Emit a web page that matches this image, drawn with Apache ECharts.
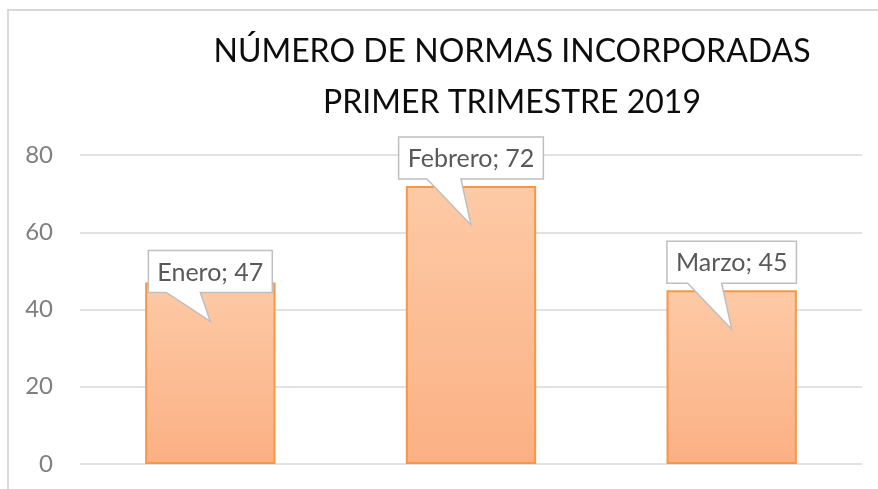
<!DOCTYPE html>
<html>
<head>
<meta charset="utf-8">
<script src="https://cdn.jsdelivr.net/npm/echarts@6/dist/echarts.min.js"></script>
<style>
  html, body { margin: 0; padding: 0; background: #fff; }
  #chart { width: 878px; height: 489px; }
</style>
</head>
<body>
<div id="chart"></div>
<script>
const categories = ['Enero', 'Febrero', 'Marzo'];
const values = [47, 72, 45];
const yTicks = [0, 20, 40, 60, 80];

// how far the callout box centre sits above each bar top (Excel moved Enero's down)
const boxLift = [11, 28, 28];

const chart = echarts.init(document.getElementById('chart'));
const font = 'Lato, "Open Sans", sans-serif';

const measureCtx = document.createElement('canvas').getContext('2d');
const textWidth = (txt, size) => {
  measureCtx.font = size + 'px ' + font;
  return measureCtx.measureText(txt).width;
};

const renderCallout = (params, api) => {
  const idx = params.dataIndex;
  const p = api.coord([api.value(0), api.value(1)]);
  const cx = p[0], ty = p[1];
  const txt = categories[idx] + '; ' + values[idx];
  const w = textWidth(txt, 25) + 18;
  const h = 42;
  const cy = ty - boxLift[idx];
  const x0 = cx - w / 2, x1 = cx + w / 2;
  const y0 = cy - h / 2, y1 = cy + h / 2;
  const shape = [
    [x0, y0], [x1, y0], [x1, y1],
    [cx - 10, y1], [cx, ty + 39], [cx - 44, y1],
    [x0, y1]
  ];
  return {
    type: 'group',
    children: [
      {
        type: 'polygon',
        shape: { points: shape },
        style: { fill: '#ffffff', stroke: '#bfbfbf', lineWidth: 1.5 }
      },
      {
        type: 'text',
        style: {
          text: txt, x: cx, y: cy + 1,
          align: 'center', verticalAlign: 'middle',
          font: '25px ' + font, fill: '#595959'
        }
      }
    ]
  };
};

const option = {
  backgroundColor: '#ffffff',
  animation: false,
  title: {
    text: 'NÚMERO DE NORMAS INCORPORADAS\nPRIMER TRIMESTRE 2019',
    left: 507,
    top: 21,
    textAlign: 'center',
    textStyle: {
      fontFamily: font, fontSize: 32, fontWeight: 'normal',
      color: '#0d0d0d', lineHeight: 51
    }
  },
  graphic: [
    { type: 'line', shape: { x1: 7, y1: 10, x2: 878, y2: 10 }, style: { stroke: '#d9d9d9', lineWidth: 2 } },
    { type: 'line', shape: { x1: 8, y1: 10, x2: 8, y2: 489 }, style: { stroke: '#d9d9d9', lineWidth: 2 } }
  ],
  grid: { left: 80, right: 16, top: 155, bottom: 25, containLabel: false },
  xAxis: {
    type: 'category',
    data: categories,
    axisLine: { show: false },
    axisTick: { show: false },
    axisLabel: { show: false }
  },
  yAxis: {
    type: 'value',
    min: yTicks[0],
    max: yTicks[yTicks.length - 1],
    interval: yTicks[1] - yTicks[0],
    axisLine: { show: false },
    axisTick: { show: false },
    axisLabel: { color: '#7f7f7f', fontFamily: font, fontSize: 24, margin: 27 },
    splitLine: { lineStyle: { color: '#d9d9d9', width: 1.5 } }
  },
  series: [
    {
      type: 'bar',
      data: values,
      barWidth: '50%',
      itemStyle: {
        color: new echarts.graphic.LinearGradient(0, 0, 0, 1, [
          { offset: 0, color: '#fdcaa6' },
          { offset: 1, color: '#fbb083' }
        ]),
        borderColor: '#f79646',
        borderWidth: 2
      }
    },
    {
      type: 'custom',
      data: categories.map((c, i) => [i, values[i]]),
      renderItem: renderCallout,
      clip: false,
      z: 5
    }
  ]
};

chart.setOption(option);
window.addEventListener('resize', () => chart.resize());
</script>
</body>
</html>
